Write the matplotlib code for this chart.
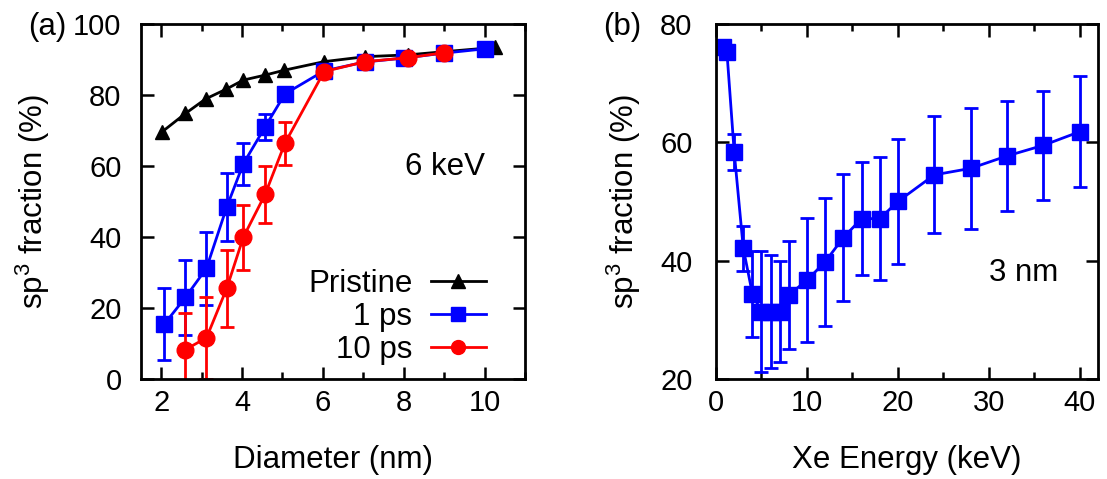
import matplotlib
matplotlib.use('agg')
import matplotlib.pyplot as plt
from matplotlib.ticker import MultipleLocator

plt.rcParams['font.family'] = ['Liberation Sans', 'DejaVu Sans']
plt.rcParams['mathtext.fontset'] = 'custom'
plt.rcParams['mathtext.rm'] = 'Liberation Sans'
plt.rcParams['mathtext.default'] = 'regular'
plt.rcParams['font.size'] = 22.5
plt.rcParams['xtick.labelsize'] = 21
plt.rcParams['ytick.labelsize'] = 21

# panel (a): sp3 fraction vs diameter, 6 keV
d_pristine = [2.03, 2.6, 3.1, 3.6, 4.03, 4.57, 5.05, 6.03, 7.05, 8.1, 9.0, 10.25]
sp3_pristine = [69.7, 74.8, 78.9, 81.6, 84.2, 85.6, 87.0, 89.4, 90.8, 91.3, 92.2, 93.4]

d_1ps = [2.08, 2.6, 3.12, 3.62, 4.03, 4.57, 5.06, 6.03, 7.04, 8.0, 9.0, 10.0]
sp3_1ps = [15.5, 23.0, 31.2, 48.4, 60.6, 71.0, 80.3, 86.8, 89.3, 90.4, 91.8, 93.0]
err_1ps = [10.2, 10.5, 10.3, 9.6, 6.0, 3.7, 1.0, 0.5, 0.5, 0.5, 0.5, 0.5]

d_10ps = [2.6, 3.12, 3.62, 4.03, 4.57, 5.06, 6.03, 7.05, 8.1, 9.0]
sp3_10ps = [8.3, 11.6, 25.5, 39.9, 52.0, 66.4, 86.6, 89.4, 90.5, 91.9]
err_10ps = [10.4, 11.6, 10.9, 9.2, 8.0, 6.1, 1.0, 0.5, 0.5, 0.5]

# panel (b): sp3 fraction vs Xe energy, 3 nm
energy = [0.75, 1.2, 2, 3, 4, 5, 6, 7, 8, 10, 12, 14, 16, 18, 20, 24, 28, 32, 36, 40]
sp3_energy = [76.1, 75.3, 58.4, 42.1, 34.4, 31.4, 31.4, 31.4, 34.2, 36.7, 39.8, 43.9,
              47.1, 47.1, 50.0, 54.5, 55.6, 57.7, 59.5, 61.8]
err_energy = [0.3, 0.3, 3.0, 3.8, 7.3, 10.3, 9.5, 8.6, 9.2, 10.5, 10.8, 10.8,
              9.5, 10.4, 10.6, 9.9, 10.2, 9.3, 9.2, 9.4]

fig = plt.figure(figsize=(11.07, 4.79), dpi=100)
ax1 = fig.add_axes([141/1107, 100/479, 384/1107, 355/479])
ax2 = fig.add_axes([716/1107, 100/479, 382/1107, 355/479])

ebkw = dict(fmt='none', elinewidth=2, capsize=5, capthick=2)

ax1.errorbar(d_1ps, sp3_1ps, yerr=err_1ps, ecolor='blue', **ebkw)
ax1.errorbar(d_10ps, sp3_10ps, yerr=err_10ps, ecolor='red', **ebkw)
l1, = ax1.plot(d_pristine, sp3_pristine, color='black', marker='^', ms=10, lw=2, label='Pristine')
l2, = ax1.plot(d_1ps, sp3_1ps, color='blue', marker='s', ms=11, lw=2, label='1 ps')
l3, = ax1.plot(d_10ps, sp3_10ps, color='red', marker='o', ms=12, lw=2, label='10 ps')

ax1.set_xlim(1.5, 11)
ax1.set_ylim(0, 100)
ax1.xaxis.set_major_locator(MultipleLocator(2))
ax1.xaxis.set_minor_locator(MultipleLocator(1))
ax1.yaxis.set_major_locator(MultipleLocator(20))
ax1.set_xlabel('Diameter (nm)')
ax1.set_ylabel('sp$^3$ fraction (%)')
ax1.text(10.0, 59.7, '6 keV', ha='right', va='center')

# markerfirst=False right-aligns the rows, labels end at the handles
leg = ax1.legend(handles=[l1, l2, l3], loc='lower right', bbox_to_anchor=(0.898, 0.04),
                 frameon=False, markerfirst=False, borderpad=0, borderaxespad=0,
                 handlelength=1.75, handletextpad=0.6, labelspacing=0.1, numpoints=1)
for h in leg.legend_handles:
    h.set_markersize(10)

ax2.errorbar(energy, sp3_energy, yerr=err_energy, ecolor='blue', **ebkw)
ax2.plot(energy, sp3_energy, color='blue', marker='s', ms=11, lw=2)
ax2.set_xlim(0, 42)
ax2.set_ylim(20, 80)
ax2.xaxis.set_major_locator(MultipleLocator(10))
ax2.xaxis.set_minor_locator(MultipleLocator(5))
ax2.yaxis.set_major_locator(MultipleLocator(20))
ax2.set_xlabel('Xe Energy (keV)')
ax2.set_ylabel('sp$^3$ fraction (%)')
ax2.text(37.6, 37.9, '3 nm', ha='right', va='center')

for ax in (ax1, ax2):
    for s in ax.spines.values():
        s.set_linewidth(2)
    ax.tick_params(which='both', direction='in', top=True, right=True, width=1.8)
    ax.tick_params(which='major', length=9)
    ax.tick_params(which='minor', length=5)
    ax.tick_params(axis='x', pad=7)
    ax.xaxis.set_label_coords(0.5, -0.185)

ax1.tick_params(axis='y', pad=14)
ax2.tick_params(axis='y', pad=17)
ax1.yaxis.set_label_coords(-0.232, 0.5)
ax2.yaxis.set_label_coords(-0.191, 0.5)

fig.text(28/1107, 1 - 27/479, '(a)', ha='left', va='center')
fig.text(603/1107, 1 - 27/479, '(b)', ha='left', va='center')

fig.savefig('out.png', dpi=100)
